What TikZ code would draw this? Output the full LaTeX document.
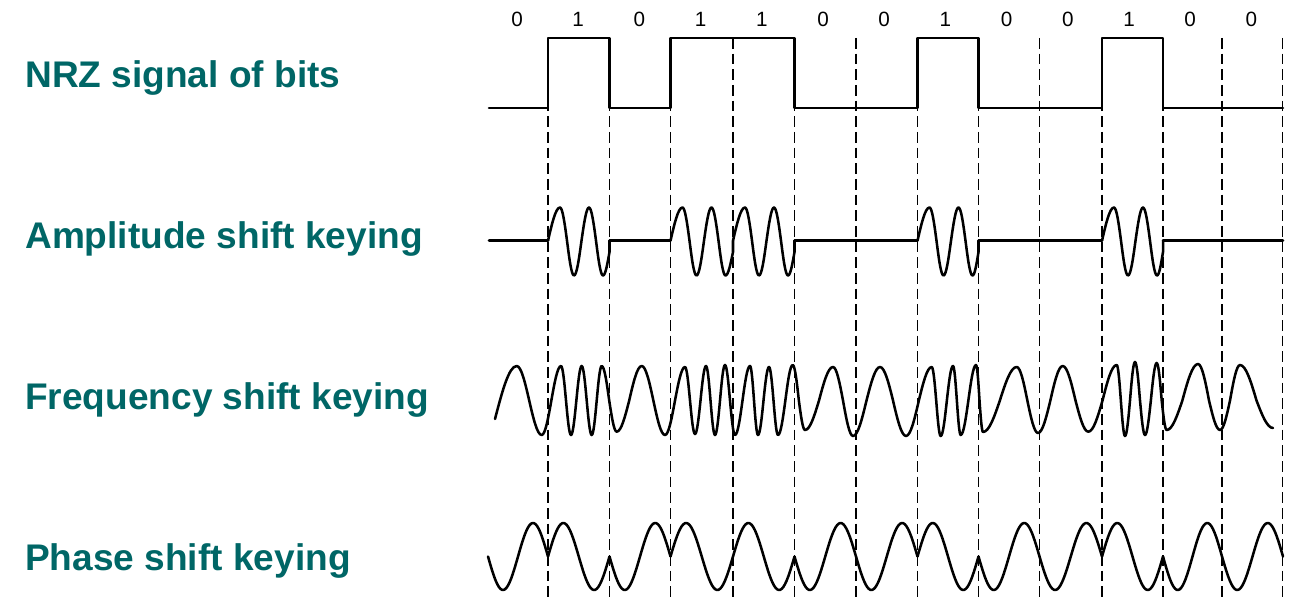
\documentclass[tikz,border=0pt]{standalone}
\usepackage{fontspec}
\setmainfont{Liberation Sans}
\usepackage{xcolor}
\definecolor{labelteal}{RGB}{0,102,102}
\tikzset{
  wave/.style={line width=1.9pt, line join=round, line cap=round},
  bitline/.style={line width=1.2pt, dash pattern={on 8pt off 3.75pt}},
  rowlabel/.style={anchor=base west, inner sep=0pt, text=labelteal, font=\fontsize{27.8}{33}\selectfont\bfseries},
  bitlabel/.style={anchor=base, inner sep=0pt, font=\fontsize{15.5}{18}\selectfont},
}

\begin{document}
\begin{tikzpicture}[x=0.75pt,y=0.75pt,yscale=-1,xscale=1]
        \useasboundingbox (0,0) rectangle (1295,602);

        % Bit boundaries
        \foreach \b in {548,609.5,670.5,733,794.5,856,917.5,978.5,1039.5,1102,1163,1222,1282.5}
          \draw [bitline] (\b,38) -- (\b,602);

        % Bit values
        \foreach \d [count=\i] in {0,1,0,1,1,0,0,1,0,0,1,0,0}
          \node [bitlabel] (bit\i) at ({517+61.2*(\i-1)},27) {\d};

        % Row titles
        \node [rowlabel] (nrz) at (25,87.3) {NRZ signal of bits};
        \node [rowlabel] (ask) at (25,248.3) {Amplitude shift keying};
        \node [rowlabel] (fsk) at (25,409) {Frequency shift keying};
        \node [rowlabel] (psk) at (25,570) {Phase shift keying};

        % NRZ signal
        \draw [wave] (489,108) -- (548,108) -- (548,38) -- (609.5,38) -- (609.5,108) -- (670.5,108) -- (670.5,38) -- (794.5,38) -- (794.5,108) -- (917.5,108) -- (917.5,38) -- (978.5,38) -- (978.5,108) -- (1102,108) -- (1102,38) -- (1163,38) -- (1163,108) -- (1283,108);

        % ASK: carrier off for 0
        \foreach \b/\e in {489/548, 609.5/670.5, 794.5/917.5, 978.5/1102, 1163/1283}
          \draw [wave] (\b,240.7) -- (\e,240.7);
        % ASK: two carrier cycles for 1
        \foreach \b/\e in {548/609.5, 670.5/733, 733/794.5, 917.5/978.5, 1102/1163}
          \draw [wave] (\b,240.7) sin ({\b+12},207.5) cos ({\b+19},240.7) sin ({\b+26},275.5) cos ({\b+33.5},240.7) sin ({\b+41},207.5) cos ({\b+48},240.7) sin ({\b+55},275.5) cos (\e,252) -- (\e,240.7);

        % FSK: peaks and troughs
        \draw [wave] (495,419) sin (516.7,366)
          \foreach \x/\y [remember=\x as \px (initially 516.7)] in {541.7/435, 561/366, 571/435, 581.7/366, 591.7/435, 601.7/366, 616.7/431.7, 641.7/366, 665/435, 685/367, 695/434, 706/366, 715/435, 725/365, 735/435, 750/366, 758/435, 769/367, 778/435, 792.7/365, 805/430, 833/367, 853/436, 880/367, 906/436, 931.7/367, 940.7/436, 953/366, 960.7/435, 976/365, 983/432, 1016.7/367, 1038/433, 1062.7/366, 1088.3/431.7, 1116.7/365, 1125/436, 1135/362, 1145/435, 1156.7/363, 1166.7/430, 1198/364, 1220/430, 1240/365}
          { cos ({(\px+\x)/2},400.5) sin (\x,\y) }
          cos (1256.5,400.5) sin (1273,428);

        % PSK: phase flips with the bit
        \foreach \b/\e/\s in {488/548/1, 548/609.5/-1, 609.5/670.5/1, 670.5/733/-1, 733/794.5/-1, 794.5/856/1, 856/917.5/1, 917.5/978.5/-1, 978.5/1039.5/1, 1039.5/1102/1, 1102/1163/-1, 1163/1222/1, 1222/1283/1}
          \draw [wave] plot [domain=\b:\e, samples=40] (\x, {556.5+\s*33.5*sin(360/(\e-\b)*(\x-\b))});

\end{tikzpicture}
\end{document}
